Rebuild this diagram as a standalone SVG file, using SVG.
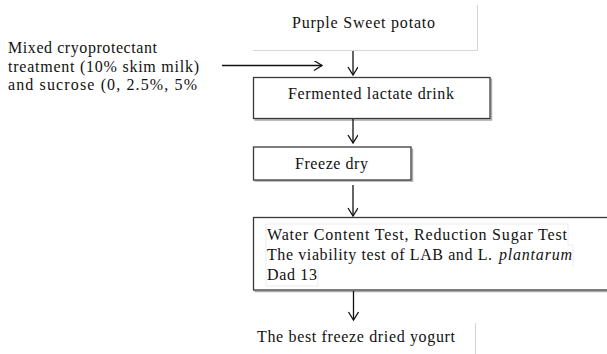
<svg xmlns="http://www.w3.org/2000/svg" width="607" height="354" viewBox="0 0 607 354" font-family="Liberation Serif, Times New Roman, DejaVu Serif, serif">
  <style>
    text { font-family: "Liberation Serif", "Times New Roman", "DejaVu Serif", serif; font-size: 16px; fill: #111; }
    .box { fill: #fff; stroke: #3a3a3a; stroke-width: 1.3; }
    .shadow { fill: none; stroke: #a8a8a8; stroke-width: 1.4; }
    .faint { fill: none; stroke: #d6d6d6; stroke-width: 1; }
    .frame { fill: none; stroke: #ececec; stroke-width: 1; }
    .conn { fill: none; stroke: #111; stroke-width: 1.3; }
  </style>
  <defs>
    <marker id="arrow" markerWidth="14" markerHeight="14" refX="9" refY="5" orient="auto" markerUnits="userSpaceOnUse">
      <path d="M1,0 L9,5 L1,10" fill="none" stroke="#111" stroke-width="1.3"/>
    </marker>
  </defs>
  <rect width="607" height="354" fill="#fff"/>

  <!-- raw material -->
  <g id="purple-sweet-potato">
    <path class="faint" d="M253,50.5 H477.5 V5"/>
    <text x="292" y="28" textLength="143" lengthAdjust="spacing">Purple Sweet potato</text>
  </g>

  <!-- side input -->
  <g id="cryoprotectant">
    <text x="8" y="53" textLength="149" lengthAdjust="spacing">Mixed cryoprotectant</text>
    <text x="8" y="72" textLength="191" lengthAdjust="spacing">treatment (10% skim milk)</text>
    <text x="8" y="90" textLength="189" lengthAdjust="spacing">and sucrose (0, 2.5%, 5%</text>
  </g>

  <g id="fermented-drink">
    <path class="shadow" d="M491.5,78.5 V120 H254.5"/>
    <rect class="box" x="253.5" y="77.5" width="236.5" height="41"/>
    <text x="288" y="99" textLength="166" lengthAdjust="spacing">Fermented lactate drink</text>
  </g>

  <g id="freeze-dry">
    <path class="shadow" d="M412.5,148.5 V181 H254.5"/>
    <rect class="box" x="253.5" y="147" width="157.5" height="33"/>
    <text x="295" y="169" textLength="73" lengthAdjust="spacing">Freeze dry</text>
  </g>

  <g id="tests">
    <path class="shadow" d="M610,291.5 H254.5"/>
    <rect class="box" x="253.5" y="217.5" width="360" height="72.5"/>
    <path class="frame" d="M266,286 V224 H568 V245 H573 V266 M266,286 H318 V266"/>
    <text x="267" y="240" textLength="300" lengthAdjust="spacing">Water Content Test, Reduction Sugar Test</text>
    <text x="267" y="260" textLength="225" lengthAdjust="spacing">The viability test of LAB  and L.</text>
    <text x="499" y="260" font-style="italic" textLength="73" lengthAdjust="spacing">plantarum</text>
    <text x="267" y="280" textLength="50" lengthAdjust="spacing">Dad 13</text>
  </g>

  <g id="result">
    <path class="faint" d="M475.5,323 V354"/>
    <text x="257" y="342" textLength="198" lengthAdjust="spacing">The best freeze dried yogurt</text>
  </g>

  <g id="connectors">
    <line class="conn" x1="222" y1="65.5" x2="322" y2="65.5" marker-end="url(#arrow)"/>
    <line class="conn" x1="353" y1="51" x2="353" y2="75" marker-end="url(#arrow)"/>
    <line class="conn" x1="353" y1="119" x2="353" y2="143" marker-end="url(#arrow)"/>
    <line class="conn" x1="353" y1="185" x2="353" y2="216" marker-end="url(#arrow)"/>
    <line class="conn" x1="353.5" y1="291" x2="353.5" y2="320" marker-end="url(#arrow)"/>
  </g>
</svg>
